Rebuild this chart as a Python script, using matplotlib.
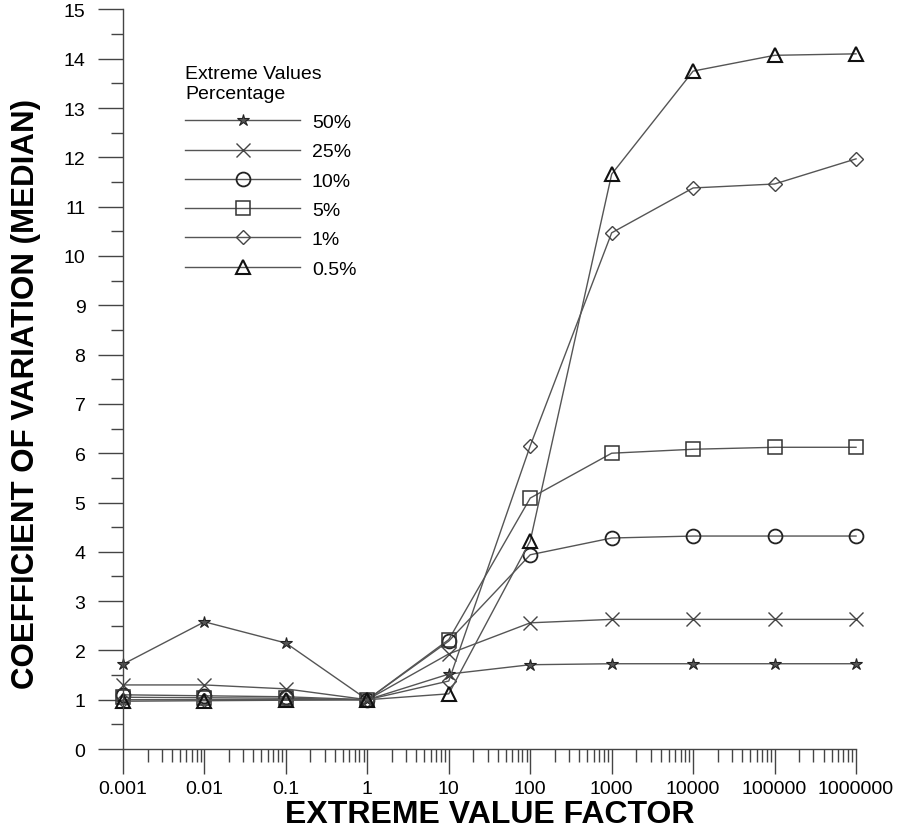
import matplotlib
matplotlib.use("Agg")
import matplotlib.pyplot as plt
from matplotlib.ticker import FixedLocator, FixedFormatter, LogLocator, NullFormatter, MultipleLocator

plt.rcParams['font.family'] = ['Liberation Sans', 'DejaVu Sans']

factors = [0.001, 0.01, 0.1, 1, 10, 100, 1000, 10000, 100000, 1000000]
factor_labels = ['0.001', '0.01', '0.1', '1', '10', '100', '1000', '10000', '100000', '1000000']

cv_50 = [1.72, 2.58, 2.15, 1.0, 1.52, 1.71, 1.73, 1.73, 1.73, 1.73]
cv_25 = [1.30, 1.30, 1.22, 1.0, 1.93, 2.56, 2.63, 2.63, 2.63, 2.63]
cv_10 = [1.10, 1.08, 1.06, 1.0, 2.19, 3.94, 4.28, 4.32, 4.32, 4.32]
cv_5 = [1.05, 1.04, 1.03, 1.0, 2.22, 5.09, 6.00, 6.08, 6.12, 6.12]
cv_1 = [1.00, 1.00, 1.00, 1.0, 1.38, 6.15, 10.47, 11.38, 11.46, 11.97]
cv_05 = [0.97, 0.98, 0.99, 1.0, 1.12, 4.22, 11.66, 13.75, 14.07, 14.10]

series_labels = ['50%', '25%', '10%', '5%', '1%', '0.5%']
series = [cv_50, cv_25, cv_10, cv_5, cv_1, cv_05]

yticks = list(range(0, 16))

styles = [
    dict(marker='*', markersize=9, markerfacecolor='#555555', markeredgecolor='#222222', markeredgewidth=0.8),
    dict(marker='x', markersize=10, markeredgecolor='#444444', markeredgewidth=1.0),
    dict(marker='o', markersize=10, fillstyle='none', markeredgecolor='#222222', markeredgewidth=1.3),
    dict(marker='s', markersize=10, fillstyle='none', markeredgecolor='#333333', markeredgewidth=1.1),
    dict(marker='D', markersize=7, fillstyle='none', markeredgecolor='#444444', markeredgewidth=1.0),
    dict(marker='^', markersize=10, fillstyle='none', markeredgecolor='#111111', markeredgewidth=1.5),
]

fig = plt.figure(figsize=(8.99, 8.37), dpi=100)
ax = fig.add_axes([0.1368, 0.1039, 0.8154, 0.8836])

for vals, lab, st in zip(series, series_labels, styles):
    ax.plot(factors, vals, color='#555555', linewidth=1.0, label=lab, clip_on=False, **st)

ax.set_xscale('log')
ax.set_xlim(0.001, 1000000)
ax.set_ylim(0, 15)

ax.xaxis.set_major_locator(FixedLocator(factors))
ax.xaxis.set_major_formatter(FixedFormatter(factor_labels))
ax.xaxis.set_minor_locator(LogLocator(base=10, subs=[2, 3, 4, 5, 6, 7, 8, 9], numticks=20))
ax.xaxis.set_minor_formatter(NullFormatter())

ax.yaxis.set_major_locator(FixedLocator(yticks))
ax.yaxis.set_minor_locator(MultipleLocator(0.5))

for s in ['top', 'right']:
    ax.spines[s].set_visible(False)
for s in ['left', 'bottom']:
    ax.spines[s].set_color('#444444')
    ax.spines[s].set_linewidth(1.0)

ax.tick_params(axis='both', which='major', direction='out', length=18, width=1.0,
               color='#444444', labelsize=14)
ax.tick_params(axis='both', which='minor', direction='out', length=9, width=1.0, color='#444444')
ax.tick_params(axis='y', which='major', pad=9)
ax.tick_params(axis='x', which='major', pad=4)

ax.set_xlabel('EXTREME VALUE FACTOR', fontsize=23, fontweight='bold', labelpad=2)
ax.set_ylabel('COEFFICIENT OF VARIATION (MEDIAN)', fontsize=22.5, fontweight='bold')
ax.yaxis.set_label_coords(-0.112, 0.481)

leg = ax.legend(title='Extreme Values\nPercentage', loc='upper left',
                bbox_to_anchor=(0.0745, 0.935), frameon=False, fontsize=14,
                title_fontsize=14, handlelength=5.9, handletextpad=0.6,
                labelspacing=0.6, alignment='left', borderaxespad=0)

fig.savefig('out.png', dpi=100)
